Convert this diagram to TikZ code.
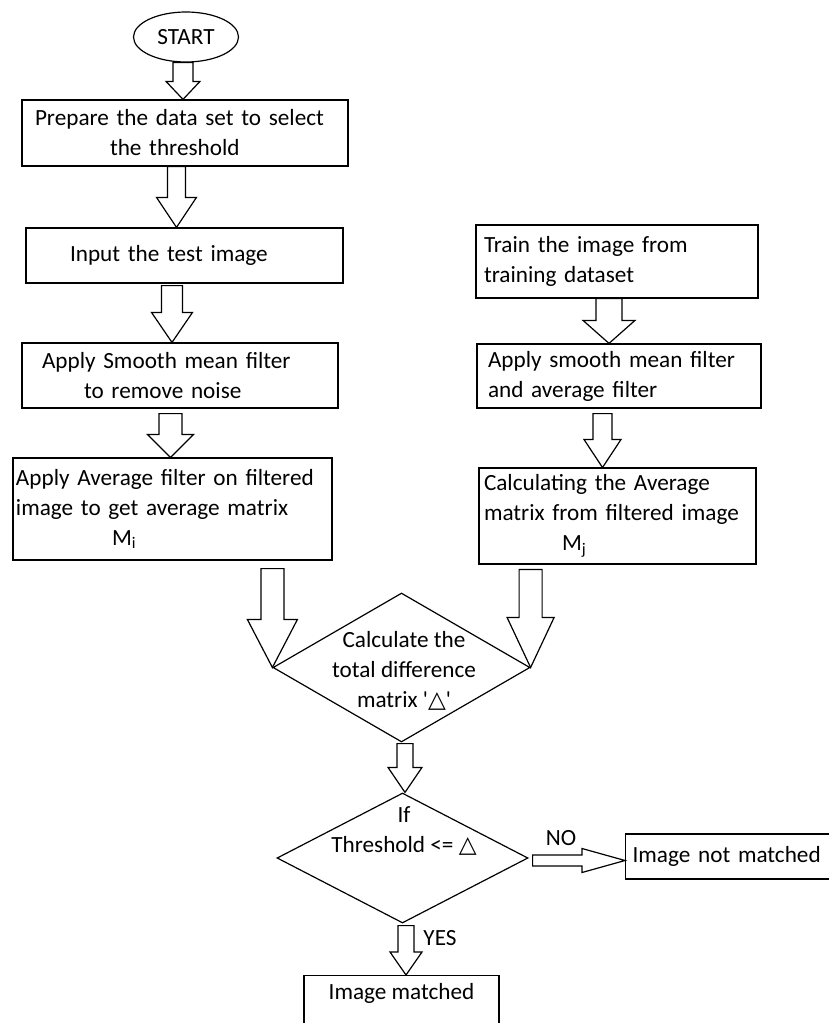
\documentclass[tikz,border=0pt]{standalone}
\usepackage{fontspec}
\setmainfont{Carlito}
\newfontfamily\symfont{DejaVu Sans}
\usetikzlibrary{shapes.geometric,calc}

\tikzset{
  fatdown/.style n args={3}{draw,to path={
    let \p1=(\tikztostart), \p2=(\tikztotarget) in
    (\x2-#1,\y1) -- (\x2-#1,\y2+#3) -- (\x2-#2,\y2+#3) -- (\x2,\y2)
    -- (\x2+#2,\y2+#3) -- (\x2+#1,\y2+#3) -- (\x2+#1,\y1) -- cycle}},
  fatright/.style n args={3}{draw,to path={
    let \p1=(\tikztostart), \p2=(\tikztotarget) in
    (\x1,\y2+#1) -- (\x2-#3,\y2+#1) -- (\x2-#3,\y2+#2) -- (\x2,\y2)
    -- (\x2-#3,\y2-#2) -- (\x2-#3,\y2-#1) -- (\x1,\y2-#1) -- cycle}}
}

\begin{document}
\begin{tikzpicture}[x=0.5pt,y=-0.5pt,line width=0.6pt,
  font=\fontsize{11.6}{15}\selectfont]
\tikzstyle{term} = [draw,shape=ellipse,minimum width=52.5pt,minimum height=25pt,inner sep=0pt]
\tikzstyle{box} = [draw,shape=rectangle,align=left]
\tikzstyle{dec} = [draw,shape=diamond,inner sep=0pt]
\useasboundingbox (0,0) rectangle (829,1023);
% left column
\node[term] (start) at (186,37) {START};
\node[box,minimum height=33pt,inner xsep=6.5pt,text width=150pt] (prep) at (185,133)
  {Prepare the data set to select\\\hspace*{37.5pt}the threshold};
\node[box,minimum height=27.5pt,inner xsep=22pt,text width=114.5pt] (input) at (184.5,255.5)
  {Input the test image};
\node[box,minimum height=32.5pt,inner xsep=10pt,text width=138pt] (smooth) at (180,375.5)
  {Apply Smooth mean filter\\\hspace*{21pt}to remove noise};
\node[box,minimum height=51pt,inner xsep=1.5pt,text width=156.5pt] (avg) at (172.5,509)
  {Apply Average filter on filtered\\image to get average matrix\\\hspace*{48pt}M\textsubscript{i}};
% right column
\node[box,minimum height=36.5pt,inner xsep=4pt,text width=133pt] (train) at (617,261.5)
  {Train the image from\\training dataset};
\node[box,minimum height=32pt,inner xsep=5.5pt,text width=131pt] (rsmooth) at (619,376)
  {Apply smooth mean filter\\and average filter};
\node[box,minimum height=46pt,inner xsep=2.5pt,text width=133.5pt] (calc) at (617.5,516)
  {Calculating the Average\\matrix from filtered image\\\hspace*{39pt}M\textsubscript{j}};
% decisions
\node[dec,minimum width=128.5pt,minimum height=74.5pt] (d1) at (401.5,667.5) {};
\node[align=center] (d1txt) at (404,671)
  {Calculate the\\total difference\\matrix \textquotesingle{\symfont △}\textquotesingle};
\node[dec,minimum width=125.5pt,minimum height=65pt] (d2) at (402.5,858) {};
\node[align=center] (d2txt) at (404,831) {If\\Threshold <= {\symfont △}};
% results
\node[box,anchor=north,text height=9pt,text depth=25pt,inner ysep=3pt,minimum width=97.5pt] (match) at (401.5,975)
  {Image matched};
\node[box,anchor=west,minimum height=22.5pt,inner xsep=3.5pt,text width=110pt] (nomatch) at (625,856.5)
  {Image not matched};
\node (no) at (561,838) {NO};
\node (yes) at (440,938) {YES};
% block arrows
\draw[fatdown={5}{8.5}{9}] (start.south) to ([xshift=-1pt]prep.north);
\draw[fatdown={4.5}{10}{15}] (prep.south) to ([xshift=-4pt]input.north);
\draw[fatdown={5.25}{10.25}{15}] ([yshift=-1pt]input.south) to ([xshift=-4pt]smooth.north);
\draw[fatdown={5.75}{11.5}{11.5}] ([yshift=-2.5pt]smooth.south) to ([xshift=-1pt]avg.north);
\draw[fatdown={6.5}{13}{11.5}] (train.south) to ([xshift=-5pt]rsmooth.north);
\draw[fatdown={4.75}{9.25}{14}] ([yshift=-2.5pt]rsmooth.south) to ([xshift=-7.5pt]calc.north);
\draw[fatdown={5.75}{12.5}{24}] ([yshift=-4pt]avg.south -| d1.west) to (d1.west);
\draw[fatdown={5.75}{11.75}{25}] ([yshift=-2.5pt]calc.south -| d1.east) to (d1.east);
\draw[fatdown={4}{8.5}{12.5}] ([yshift=-0.5pt]d1.south) to ([xshift=1.25pt]d2.north);
\draw[fatdown={4}{8}{11.5}] ([yshift=-1pt]d2.south) to ([xshift=2.25pt]match.north);
\draw[fatright={2.75}{6}{21.5}] ([xshift=2pt]d2.east) to ([yshift=-2pt]nomatch.west);
\end{tikzpicture}
\end{document}
